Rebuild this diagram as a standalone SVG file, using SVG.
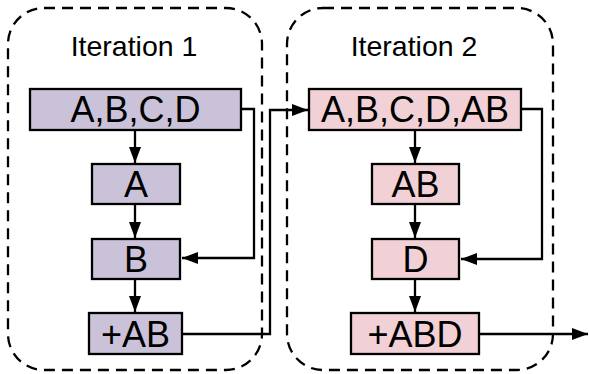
<svg xmlns="http://www.w3.org/2000/svg" width="589" height="374" viewBox="0 0 589 374">
<defs>
<style>
.frame{fill:none;stroke:#000;stroke-width:2.3;stroke-dasharray:11,7}
.n1{fill:#cac2d8;stroke:#000;stroke-width:2.3}
.n2{fill:#f1d1d6;stroke:#000;stroke-width:2.3}
.t{font-family:"Liberation Sans",Arial,sans-serif;font-size:36px;fill:#000;text-anchor:middle}
.title{font-family:"Liberation Sans",Arial,sans-serif;font-size:28.5px;fill:#000;text-anchor:middle}
.c{fill:none;stroke:#000;stroke-width:2.3}
</style>
<marker id="arr" viewBox="0 0 16 12" refX="16" refY="6" markerWidth="16" markerHeight="12" markerUnits="userSpaceOnUse" orient="auto">
<path d="M0,0 L16,6 L0,12 z" fill="#000"/>
</marker>
</defs>
<rect fill="#fff" width="589" height="374"/>
<g id="iteration1">
<rect class="frame" x="8" y="8" width="254" height="362" rx="36" ry="36"/>
<text class="title" x="134" y="56">Iteration 1</text>
</g>
<g id="iteration2">
<rect class="frame" x="287" y="8" width="266" height="362" rx="36" ry="36"/>
<text class="title" x="414" y="56">Iteration 2</text>
</g>
<g id="n_abcd">
<rect class="n1" x="30" y="89" width="211" height="41"/>
<text class="t" x="135.5" y="122">A,B,C,D</text>
</g>
<g id="n_a">
<rect class="n1" x="92" y="164" width="88" height="40"/>
<text class="t" x="136" y="197">A</text>
</g>
<g id="n_b">
<rect class="n1" x="92" y="239" width="88" height="40"/>
<text class="t" x="136" y="272">B</text>
</g>
<g id="n_plusab">
<rect class="n1" x="89" y="313" width="93" height="41"/>
<text class="t" x="135.5" y="347">+AB</text>
</g>
<g id="n_abcdab">
<rect class="n2" x="309" y="89" width="212" height="41"/>
<text class="t" x="415" y="122">A,B,C,D,AB</text>
</g>
<g id="n_ab">
<rect class="n2" x="372" y="164" width="87" height="40"/>
<text class="t" x="415.5" y="197">AB</text>
</g>
<g id="n_d">
<rect class="n2" x="372" y="239" width="87" height="40"/>
<text class="t" x="415.5" y="272">D</text>
</g>
<g id="n_plusabd">
<rect class="n2" x="351" y="313" width="128" height="41"/>
<text class="t" x="415" y="347">+ABD</text>
</g>
<g id="connectors">
<path class="c" d="M135,130 V163" marker-end="url(#arr)"/>
<path class="c" d="M135,204 V238" marker-end="url(#arr)"/>
<path class="c" d="M135,279 V312" marker-end="url(#arr)"/>
<path class="c" d="M241,109 H254 V258 H182" marker-end="url(#arr)"/>
<path class="c" d="M182,334 H270 V110 H308" marker-end="url(#arr)"/>
<path class="c" d="M415,130 V163" marker-end="url(#arr)"/>
<path class="c" d="M415,204 V238" marker-end="url(#arr)"/>
<path class="c" d="M415,279 V312" marker-end="url(#arr)"/>
<path class="c" d="M521,109 H542 V259 H461" marker-end="url(#arr)"/>
<path class="c" d="M479,334 H588" marker-end="url(#arr)"/>
</g>
</svg>
